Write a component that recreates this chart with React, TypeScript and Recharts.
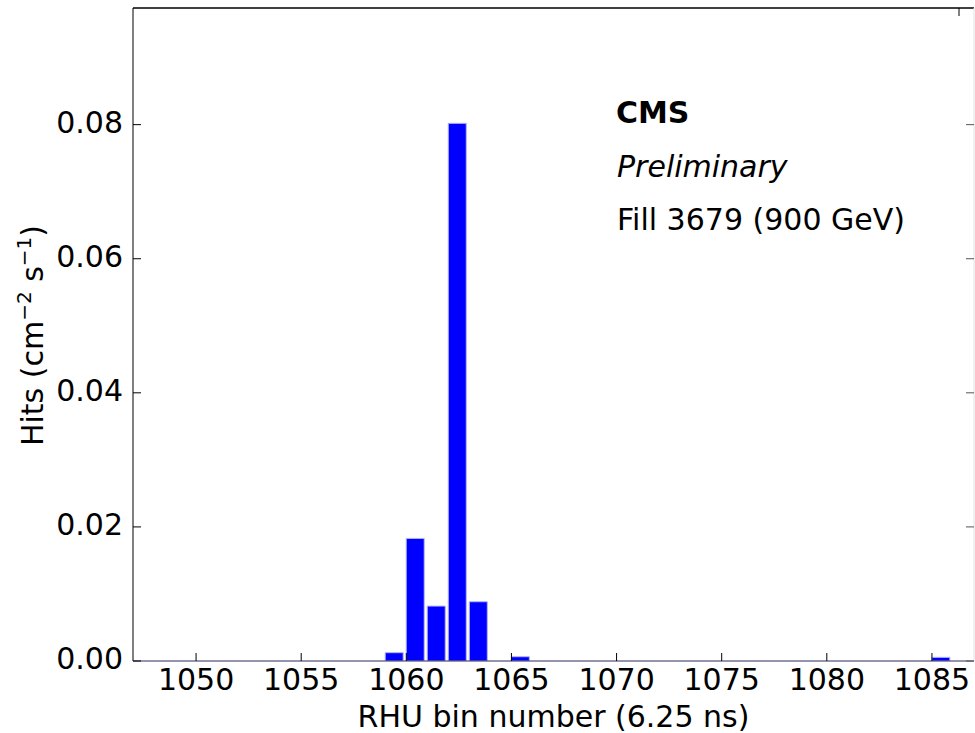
import React from 'react'
import { BarChart, Bar, XAxis, YAxis, ReferenceLine } from 'recharts'

// RHU timing histogram, fill 3679 (900 GeV)
const BINS = [1059, 1060, 1061, 1062, 1063, 1065, 1085]
const HITS = [0.00124, 0.01828, 0.00819, 0.0802, 0.00884, 0.00064, 0.00055]

const X_TICKS = [1050, 1055, 1060, 1065, 1070, 1075, 1080, 1085]
const Y_TICKS = [0, 0.02, 0.04, 0.06, 0.08]
const X_DOMAIN: [number, number] = [1047, 1087]
const Y_DOMAIN: [number, number] = [0, 0.0974]

const ANNOTATIONS = ['CMS', 'Preliminary', 'Fill 3679 (900 GeV)']

// matplotlib bar(left=bin, width=0.8) -> centre at bin + 0.4
const BAR_OFFSET = 0.4

const FONT = '"DejaVu Sans", sans-serif'
const BAR_COLOR = '#0000ff'
const WIDTH = 975
const HEIGHT = 733
const TICK_LEN = 8

const data = BINS.map((bin, i) => ({ bin, hits: HITS[i] }))

type TickProps = {
  x?: number
  y?: number
  payload?: { value: number }
}

/* matplotlib classic style: ticks point into the plot */
function makeTick(side: 'bottom' | 'top' | 'left' | 'right') {
  return function InwardTick({ x = 0, y = 0, payload }: TickProps) {
    const v = payload?.value ?? 0
    if (side === 'bottom') {
      return (
        <g>
          <line x1={x} y1={y} x2={x} y2={y - TICK_LEN} stroke='#000' />
          <text x={x} y={y + 29} textAnchor='middle' fontFamily={FONT} fontSize={30} fill='#000'>
            {String(v)}
          </text>
        </g>
      )
    }
    if (side === 'left') {
      return (
        <g>
          <line x1={x} y1={y} x2={x + TICK_LEN} y2={y} stroke='#000' />
          <text x={x - 10} y={y + 8} textAnchor='end' fontFamily={FONT} fontSize={30} fill='#000'>
            {v.toFixed(2)}
          </text>
        </g>
      )
    }
    if (side === 'top') {
      return <line x1={x} y1={y} x2={x} y2={y + TICK_LEN} stroke='#000' />
    }
    return <line x1={x} y1={y} x2={x - TICK_LEN} y2={y} stroke='#555' />
  }
}

const BottomTick = makeTick('bottom')
const TopTick = makeTick('top')
const LeftTick = makeTick('left')
const RightTick = makeTick('right')

function YLabel({ viewBox }: { viewBox?: { x?: number; y?: number; height?: number } }) {
  const cy = (viewBox?.y ?? 0) + (viewBox?.height ?? 0) / 2 + 1
  const cx = 43
  return (
    <text
      x={cx}
      y={cy}
      transform={`rotate(-90, ${cx}, ${cy})`}
      textAnchor='middle'
      fontFamily={FONT}
      fontSize={30}
      fill='#000'>
      Hits (cm
      <tspan dy={-12} fontSize={20}>−2</tspan>
      <tspan dy={12}> s</tspan>
      <tspan dy={-12} fontSize={20}>−1</tspan>
      <tspan dy={12}>)</tspan>
    </text>
  )
}

export default function App() {
  return (
    <div style={{ position: 'absolute', left: 0, top: 0, width: WIDTH, height: HEIGHT, background: '#fff' }}>
      <BarChart
        width={WIDTH}
        height={HEIGHT}
        data={data}
        margin={{ top: 0, right: 0, left: 0, bottom: 0 }}>
        <XAxis
          type='number'
          dataKey={(d: { bin: number }) => d.bin + BAR_OFFSET}
          domain={X_DOMAIN}
          ticks={X_TICKS}
          allowDataOverflow
          height={72}
          stroke='#2a2a5e'
          tickLine={false}
          tickSize={0}
          tickMargin={0}
          tick={<BottomTick />}
          label={{
            value: 'RHU bin number (6.25 ns)',
            position: 'insideBottom',
            offset: 6,
            style: { fontFamily: FONT, fontSize: 30, fill: '#000' },
          }}
        />
        <XAxis
          xAxisId='top'
          orientation='top'
          type='number'
          domain={X_DOMAIN}
          ticks={X_TICKS}
          allowDataOverflow
          height={8}
          stroke='#000'
          tickLine={false}
          tickSize={0}
          tickMargin={0}
          tick={<TopTick />}
        />
        <YAxis
          domain={Y_DOMAIN}
          ticks={Y_TICKS}
          allowDataOverflow
          width={133}
          stroke='#000'
          tickLine={false}
          tickSize={0}
          tickMargin={0}
          tick={<LeftTick />}
          label={(props: { viewBox?: { x?: number; y?: number; height?: number } }) => (
            <YLabel viewBox={props.viewBox} />
          )}
        />
        {/* right frame edge is mostly clipped in the original, only a faint line shows */}
        <YAxis
          yAxisId='right'
          orientation='right'
          domain={Y_DOMAIN}
          ticks={Y_TICKS}
          allowDataOverflow
          width={1}
          stroke='#e2e2e2'
          tickLine={false}
          tickSize={0}
          tickMargin={0}
          tick={<RightTick />}
        />
        {/* top frame edge */}
        <ReferenceLine y={Y_DOMAIN[1]} stroke='#000' />
        <Bar
          dataKey='hits'
          fill={BAR_COLOR}
          stroke='#b4b4ff'
          strokeWidth={1}
          barSize={18}
          isAnimationActive={false}
        />
      </BarChart>

      {/* CMS label block, top right of the plot */}
      <svg
        width={WIDTH}
        height={HEIGHT}
        style={{ position: 'absolute', left: 0, top: 0, pointerEvents: 'none' }}>
        <text x={616} y={123} fontFamily={FONT} fontSize={30} fontWeight='bold' fill='#000'>
          {ANNOTATIONS[0]}
        </text>
        <text x={617} y={177} fontFamily={FONT} fontSize={30} fontStyle='italic' fill='#000'>
          {ANNOTATIONS[1]}
        </text>
        <text x={617} y={230} fontFamily={FONT} fontSize={30} fill='#000'>
          {ANNOTATIONS[2]}
        </text>
      </svg>
    </div>
  )
}
